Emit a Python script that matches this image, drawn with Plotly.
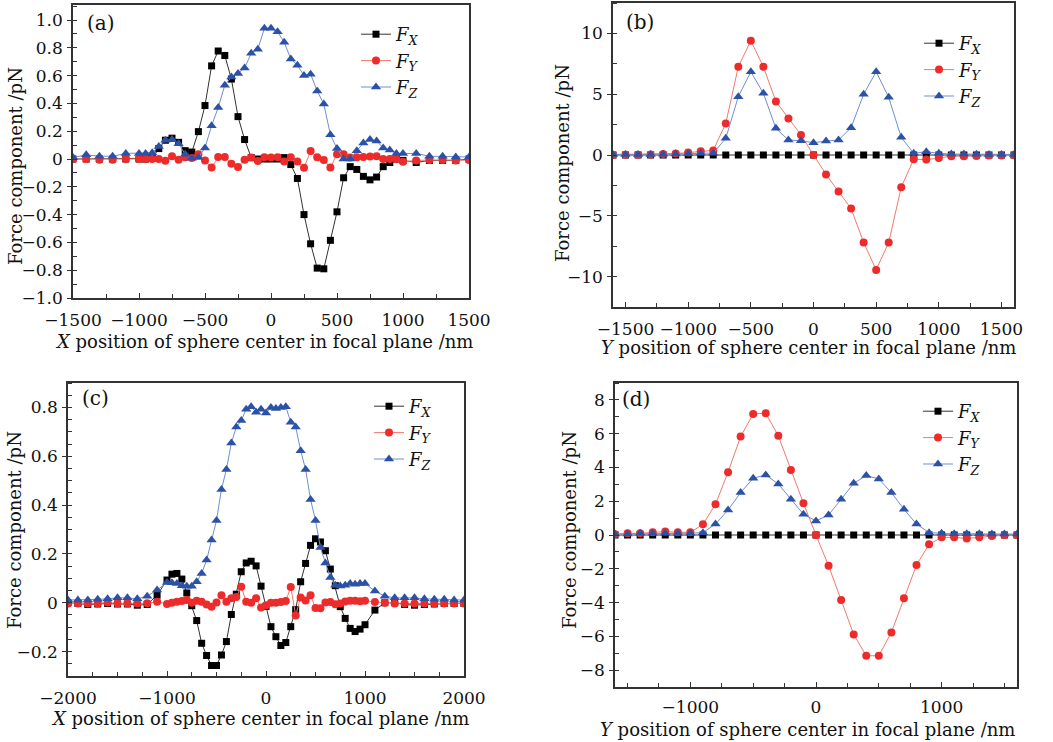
import plotly.graph_objects as go

W, H = 1053, 742

# ---------------- Panel (a): X scan ----------------
xa = [-1500, -1400, -1300, -1200, -1100,
      -1000, -950, -900, -850, -800, -750, -700, -650, -600, -550, -500, -450, -400, -350, -300, -250,
      -200, -150, -100, -50, 0, 50, 100, 150, 200, 250, 300, 350, 400, 450, 500, 550, 600, 650, 700,
      750, 800, 850, 900, 950, 1000,
      1100, 1200, 1300, 1400, 1500]
fx_a = [0.0, 0.0, 0.0, 0.0, 0.0,
        0.0, 0.0, 0.005, 0.075, 0.135, 0.15, 0.12, 0.06, 0.05, 0.197, 0.385, 0.67, 0.777, 0.745, 0.575,
        0.305, 0.14, 0.01, 0.0, 0.0, 0.0, 0.0, 0.01, -0.04, -0.14, -0.40, -0.61, -0.785, -0.79, -0.585,
        -0.38, -0.135, -0.055, -0.075, -0.125, -0.15, -0.13, -0.055, -0.025, 0.0, -0.01,
        -0.025, -0.01, -0.01, -0.01, 0.0]
fy_a = [0.0, 0.0, -0.005, -0.005, 0.0,
        0.0, 0.0, 0.0, 0.0, -0.012, 0.02, -0.005, 0.012, 0.008, 0.035, -0.01, -0.062, 0.015, 0.015, -0.035,
        -0.058, -0.005, 0.01, -0.015, 0.012, 0.01, 0.012, -0.018, 0.012, -0.018, -0.063, 0.057, 0.013,
        -0.008, -0.062, 0.035, 0.035, 0.01, 0.012, 0.014, 0.018, 0.02, 0.0, 0.0, 0.0, -0.02,
        -0.01, -0.008, -0.008, -0.01, -0.008]
fz_a = [0.01, 0.03, 0.02, 0.02, 0.04,
        0.04, 0.04, 0.045, 0.09, 0.135, 0.14, 0.11, 0.035, 0.005, 0.01, 0.08, 0.24, 0.37, 0.53, 0.59,
        0.615, 0.655, 0.76, 0.79, 0.94, 0.94, 0.915, 0.84, 0.72, 0.675, 0.60, 0.61, 0.49, 0.395, 0.175,
        0.075, 0.0, 0.0, 0.06, 0.115, 0.14, 0.13, 0.08, 0.065, 0.04, 0.04,
        0.04, 0.02, 0.02, 0.015, 0.015]

# ---------------- Panel (b): Y scan ----------------
xb = [-1600, -1500, -1400, -1300, -1200, -1100, -1000, -900, -800, -700, -600, -500, -400, -300, -200,
      -100, 0, 100, 200, 300, 400, 500, 600, 700, 800, 900, 1000, 1100, 1200, 1300, 1400, 1500, 1600]
fx_b = [0.0, 0.0, 0.0, 0.0, 0.0, 0.0, 0.0, 0.0, 0.0, 0.0, 0.0, 0.0, 0.0, 0.0, 0.0,
        0.0, 0.0, 0.0, 0.0, 0.0, 0.0, 0.0, 0.0, 0.0, 0.0, 0.0, 0.0, 0.0, 0.0, 0.0, 0.0, 0.0, 0.0]
fy_b = [0.0, 0.02, 0.03, 0.05, 0.08, 0.12, 0.2, 0.3, 0.38, 2.6, 7.25, 9.4, 7.25, 4.4, 3.0,
        1.65, 0.0, -1.6, -3.0, -4.4, -7.2, -9.45, -7.2, -2.65, -0.35, -0.38, -0.25, -0.1, -0.1, -0.08,
        -0.05, -0.04, -0.02]
fz_b = [0.05, 0.05, 0.05, 0.05, 0.07, 0.08, 0.1, 0.15, 0.15, 1.37, 4.8, 6.85, 5.07, 2.19, 1.23,
        1.18, 1.01, 1.15, 1.23, 2.25, 4.99, 6.85, 4.74, 1.45, 0.14, 0.27, 0.14, 0.08, 0.08, 0.07,
        0.05, 0.05, 0.05]

# ---------------- Panel (c): X scan ----------------
xc = [-2000, -1900, -1800, -1700, -1600, -1500, -1400, -1300, -1200, -1100,
      -1000, -950, -900, -850, -800, -750, -700, -650, -600, -550, -500, -450, -400, -350, -300, -250,
      -200, -150, -100, -50, 0, 50, 100, 150, 200, 250, 300, 350, 400, 450, 500, 550, 600, 650, 700,
      750, 800, 850, 900, 950, 1000,
      1100, 1200, 1300, 1400, 1500, 1600, 1700, 1800, 1900, 2000]
fx_c = [0.0, -0.003, -0.007, -0.005, -0.003, -0.005, -0.005, -0.01, -0.007, 0.031,
        0.093, 0.117, 0.12, 0.097, 0.04, -0.012, -0.073, -0.166, -0.216, -0.257, -0.257, -0.214, -0.159,
        -0.048, 0.035, 0.127, 0.163, 0.17, 0.151, 0.068, -0.015, -0.098, -0.139, -0.175, -0.163, -0.098,
        -0.028, 0.086, 0.161, 0.235, 0.262, 0.249, 0.213, 0.138, 0.07, -0.016, -0.064, -0.105, -0.118,
        -0.108, -0.09,
        -0.03, 0.0, 0.0, -0.007, -0.01, -0.007, -0.005, -0.003, -0.003, -0.003]
fy_c = [-0.003, -0.003, -0.003, -0.003, 0.001, -0.003, -0.003, -0.003, -0.002, 0.004,
        -0.005, 0.0, 0.004, 0.007, 0.011, 0.0, 0.008, 0.004, -0.007, -0.016, 0.001, 0.031, 0.004, 0.018,
        0.024, 0.066, 0.004, 0.0, 0.018, -0.019, -0.01, 0.0, 0.0, 0.003, 0.007, 0.065, -0.052, 0.022,
        0.009, 0.031, -0.021, -0.023, 0.001, 0.003, -0.006, -0.003, 0.005, 0.008, 0.008, 0.006, 0.008,
        0.003, 0.0, -0.003, -0.003, -0.003, -0.003, -0.003, -0.003, -0.003, -0.003]
fz_c = [0.011, 0.011, 0.011, 0.014, 0.016, 0.02, 0.02, 0.016, 0.027, 0.052,
        0.083, 0.082, 0.079, 0.07, 0.068, 0.068, 0.086, 0.12, 0.175, 0.257, 0.337, 0.464, 0.546, 0.654,
        0.72, 0.746, 0.793, 0.803, 0.78, 0.793, 0.777, 0.8, 0.796, 0.8, 0.803, 0.739, 0.72, 0.623, 0.546,
        0.423, 0.337, 0.226, 0.163, 0.103, 0.072, 0.069, 0.072, 0.079, 0.076, 0.079, 0.079,
        0.048, 0.027, 0.02, 0.02, 0.02, 0.016, 0.014, 0.014, 0.011, 0.011]

# ---------------- Panel (d): Y scan ----------------
xd = [-1600, -1500, -1400, -1300, -1200, -1100, -1000, -900, -800, -700, -600, -500, -400, -300, -200,
      -100, 0, 100, 200, 300, 400, 500, 600, 700, 800, 900, 1000, 1100, 1200, 1300, 1400, 1500, 1600]
fx_d = [0.0, 0.0, 0.0, 0.0, 0.0, 0.0, 0.0, 0.0, 0.0, 0.0, 0.0, 0.0, 0.0, 0.0, 0.0,
        0.0, 0.0, 0.0, 0.0, 0.0, 0.0, 0.0, 0.0, 0.0, 0.0, 0.0, 0.0, 0.0, 0.0, 0.0, 0.0, 0.0, 0.0]
fy_d = [0.04, 0.1, 0.1, 0.16, 0.2, 0.16, 0.16, 0.63, 1.82, 3.72, 5.83, 7.17, 7.21, 5.87, 3.85,
        1.88, 0.0, -1.82, -3.85, -5.89, -7.15, -7.15, -5.77, -3.75, -1.78, -0.55, -0.14, -0.14, -0.2,
        -0.14, -0.06, 0.0, 0.0]
fz_d = [0.06, 0.06, 0.1, 0.1, 0.1, 0.1, 0.1, 0.14, 0.65, 1.48, 2.51, 3.36, 3.56, 3.02, 2.11,
        1.23, 0.83, 1.19, 2.11, 3.06, 3.52, 3.32, 2.51, 1.52, 0.65, 0.14, 0.1, 0.08, 0.08, 0.08,
        0.06, 0.06, 0.06]

# ---------------- tick labels ----------------
xt_a = [-1500, -1000, -500, 0, 500, 1000, 1500]
xt_a_txt = ["\u22121500", "\u22121000", "\u2212500", "0", "500", "1000", "1500"]
yt_a = [-1.0, -0.8, -0.6, -0.4, -0.2, 0, 0.2, 0.4, 0.6, 0.8, 1.0]
yt_a_txt = ["\u22121.0", "\u22120.8", "\u22120.6", "\u22120.4", "\u22120.2", "0", "0.2", "0.4", "0.6", "0.8", "1.0"]
xt_b = [-1500, -1000, -500, 0, 500, 1000, 1500]
xt_b_txt = xt_a_txt
yt_b = [-10, -5, 0, 5, 10]
yt_b_txt = ["\u221210", "\u22125", "0", "5", "10"]
xt_c = [-2000, -1000, 0, 1000, 2000]
xt_c_txt = ["\u22122000", "\u22121000", "0", "1000", "2000"]
yt_c = [-0.2, 0, 0.2, 0.4, 0.6, 0.8]
yt_c_txt = ["\u22120.2", "0", "0.2", "0.4", "0.6", "0.8"]
xt_d = [-1000, 0, 1000]
xt_d_txt = ["\u22121000", "0", "1000"]
yt_d = [-8, -6, -4, -2, 0, 2, 4, 6, 8]
yt_d_txt = ["\u22128", "\u22126", "\u22124", "\u22122", "0", "2", "4", "6", "8"]

panel_labels = ["(a)", "(b)", "(c)", "(d)"]
xtitles = ["<i>X</i> position of sphere center in focal plane /nm",
           "<i>Y</i> position of sphere center in focal plane /nm",
           "<i>X</i> position of sphere center in focal plane /nm",
           "<i>Y</i> position of sphere center in focal plane /nm"]
ytitle = "Force component /pN"
names = ["<i>F</i><sub><i>X</i></sub>", "<i>F</i><sub><i>Y</i></sub>", "<i>F</i><sub><i>Z</i></sub>"]

FONT = "DejaVu Serif"
RED_M = "#ee2b2b"
RED_L = "#f07a6e"
BLUE_M = "#2b52a6"
BLUE_L = "#6f8fd0"

fig = go.Figure()

panels = [
    (xa, fx_a, fy_a, fz_a),
    (xb, fx_b, fy_b, fz_b),
    (xc, fx_c, fy_c, fz_c),
    (xd, fx_d, fy_d, fz_d),
]
legend_ids = ["legend", "legend2", "legend3", "legend4"]

for i, (xs, fx, fy, fz) in enumerate(panels):
    sfx = "" if i == 0 else str(i + 1)
    common = dict(xaxis="x" + sfx, yaxis="y" + sfx, legend=legend_ids[i], mode="lines+markers")
    fig.add_trace(go.Scatter(x=xs, y=fx, name=names[0],
                             line=dict(color="#333333", width=1),
                             marker=dict(symbol="square", size=7, color="#000000"), **common))
    fig.add_trace(go.Scatter(x=xs, y=fy, name=names[1],
                             line=dict(color=RED_L, width=1),
                             marker=dict(symbol="circle", size=8, color=RED_M), **common))
    fig.add_trace(go.Scatter(x=xs, y=fz, name=names[2],
                             line=dict(color=BLUE_L, width=1),
                             marker=dict(symbol="triangle-up", size=9, color=BLUE_M), **common))

def px_x(p):
    return p / W

def px_y(p):
    return 1 - p / H

# plot areas in pixels: (left, right, top, bottom)
areas = [(73, 469, 5, 298), (613, 1014, 3, 307), (68, 464, 383, 676), (615, 1017, 383, 687)]
xranges = [[-1500, 1500], [-1600, 1600], [-2000, 2000], [-1600, 1600]]
yranges = [[-1.0, 1.108], [-12.5, 12.5], [-0.3, 0.9], [-9, 9]]
xticks = [(xt_a, xt_a_txt, 250), (xt_b, xt_b_txt, 250), (xt_c, xt_c_txt, 250), (xt_d, xt_d_txt, 250)]
yticks = [(yt_a, yt_a_txt, 0.1), (yt_b, yt_b_txt, 2.5), (yt_c, yt_c_txt, 0.05), (yt_d, yt_d_txt, 1)]
x_standoff = [6, 6, 6, 4]

axis_style = dict(showline=True, linecolor="#333333", linewidth=1.5, mirror=True, showgrid=False,
                  zeroline=False, tickwidth=1.2, tickcolor="#333333",
                  automargin=False, tickangle=0,
                  tickfont=dict(family=FONT, size=17, color="#111111"))

for i in range(4):
    sfx = "" if i == 0 else str(i + 1)
    l, r, t, b = areas[i]
    tv, tt, mn = xticks[i]
    fig.layout["xaxis" + sfx] = dict(
        domain=[px_x(l), px_x(r)], range=xranges[i], anchor="y" + sfx,
        tickmode="array", tickvals=tv, ticktext=tt, ticks="inside", ticklen=5,
        ticklabelstandoff=x_standoff[i],
        minor=dict(dtick=mn, tick0=0, ticks="inside", ticklen=4, tickcolor="#333333", showgrid=False),
        **axis_style)
    tv, tt, mn = yticks[i]
    fig.layout["yaxis" + sfx] = dict(
        domain=[px_y(b), px_y(t)], range=yranges[i], anchor="x" + sfx,
        tickmode="array", tickvals=tv, ticktext=tt, ticks="outside", ticklen=4, ticklabelstandoff=1,
        minor=dict(dtick=mn, tick0=0, ticks="inside", ticklen=4, tickcolor="#333333", showgrid=False),
        **axis_style)

annotations = []
# panel letters
letter_pos = [(85, 23), (624, 22), (80, 398), (620, 399)]
for i, (lx, ly) in enumerate(letter_pos):
    annotations.append(dict(text=panel_labels[i], x=px_x(lx), y=px_y(ly), xref="paper", yref="paper",
                            xanchor="left", yanchor="middle", showarrow=False,
                            font=dict(family=FONT, size=20, color="#111111")))
# x titles
xt_pos = [(264, 342), (808, 348), (260, 718), (807, 729)]
for i, (tx, ty) in enumerate(xt_pos):
    annotations.append(dict(text=xtitles[i], x=px_x(tx), y=px_y(ty), xref="paper", yref="paper",
                            xanchor="center", yanchor="middle", showarrow=False,
                            font=dict(family=FONT, size=18, color="#111111")))
# y titles
yt_pos = [(15, 166), (562, 163), (14, 530), (569, 530)]
for i, (tx, ty) in enumerate(yt_pos):
    annotations.append(dict(text=ytitle, x=px_x(tx), y=px_y(ty), xref="paper", yref="paper",
                            xanchor="center", yanchor="middle", showarrow=False, textangle=-90,
                            font=dict(family=FONT, size=18, color="#111111")))

legend_pos = [(356, 16), (919, 25), (369, 388), (918, 393)]
for i, (lx, ly) in enumerate(legend_pos):
    fig.layout[legend_ids[i]] = dict(x=px_x(lx), y=px_y(ly), xanchor="left", yanchor="top",
                                     bgcolor="rgba(0,0,0,0)", borderwidth=0, itemwidth=30,
                                     font=dict(family=FONT, size=18, color="#111111"),
                                     tracegroupgap=0)

fig.update_layout(width=W, height=H, margin=dict(l=0, r=0, t=0, b=0, autoexpand=False),
                  paper_bgcolor="white", plot_bgcolor="white", showlegend=True,
                  annotations=annotations, font=dict(family=FONT))

fig.write_html("out.html")
